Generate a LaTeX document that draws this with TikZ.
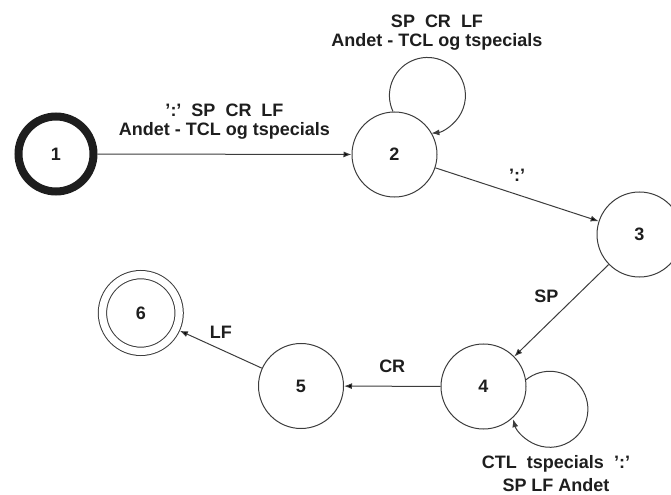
\documentclass[tikz,border=0pt]{standalone}
\usepackage{fontspec}
\setmainfont{Liberation Sans}
\usetikzlibrary{arrows.meta}
\definecolor{linegray}{RGB}{60,60,60}
\definecolor{textgray}{RGB}{30,30,30}
\newcommand{\qq}{’:’}

\begin{document}
\begin{tikzpicture}[x=0.5pt,y=0.5pt,
	font=\fontsize{9}{9.5}\selectfont\bfseries,text=textgray,
	state/.style={circle,draw=linegray,line width=0.5pt,minimum size=42.5pt,inner sep=0pt},
	start/.style={circle,draw=textgray,line width=4pt,minimum size=37.5pt,inner sep=0pt},
	final/.style={circle,draw=linegray,line width=0.5pt,double,double distance=3.65pt,minimum size=38.35pt,inner sep=0pt,outer sep=2.3pt},
	lbl/.style={align=center},
	arr/.style={draw=linegray,line width=0.5pt,-{Latex[length=4pt,width=3pt]}}]
	\useasboundingbox (0,0) rectangle (671,494);
	\node[start] at (56,340)(1){1};
	\node[state] at (394.5,339.5)(2){2};
	\node[state] at (639.5,259.5)(3){3};
	\node[state] at (483.5,107.5)(4){4};
	\node[state] at (301,108)(5){5};
	\node[final] at (140.8,181)(6){6};
	\path[arr] (1)edge node[lbl,above=4pt]{\qq\ \ SP\ \ CR\ \ LF\\Andet - TCL og tspecials}(2)
		(2)edge node[above=3pt]{\qq}(3)
		(3)edge node[pos=0.35,left=5pt]{SP}(4)
		(4)edge node[above=3pt]{CR}(5)
		(5)edge node[above=2pt]{LF}(6);
	
	\draw[arr] (2.92) arc[start angle=205,end angle=-84,radius=19pt];
	\node[lbl,above] at (437,437){SP\ \ CR\ \ LF\\Andet - TCL og tspecials};
	
	\draw[arr] (4.9) arc[start angle=129,end angle=-165,radius=19pt];
	\node[lbl,below] at (556,46){CTL\ \ tspecials\ \ \qq\\[2pt]SP LF Andet};
\end{tikzpicture}
\end{document}
